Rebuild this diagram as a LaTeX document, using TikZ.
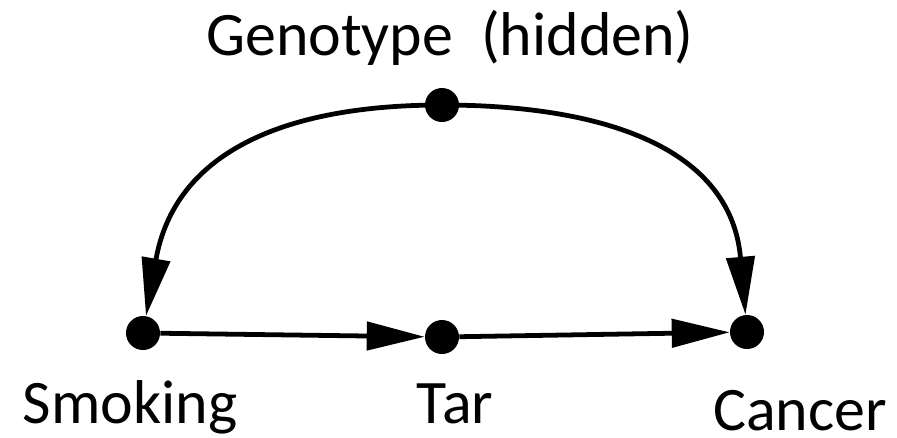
\documentclass[tikz,border=0pt]{standalone}
\usepackage{fontspec}
\setmainfont{Carlito}
\usetikzlibrary{positioning,arrows.meta}
\tikzset{
  dot/.style={circle,fill=black,inner sep=0pt,minimum size=0.85cm},
  lbl/.style={anchor=base,inner sep=0pt,font=\fontsize{44}{50}\selectfont},
  edge/.style={-{Triangle[length=1.45cm,width=0.7cm]},line width=3.4pt}
}
\begin{document}
\begin{tikzpicture}[x=0.025cm,y=-0.025cm]
  \useasboundingbox (0,0) rectangle (897,437);
  \node[dot] (geno) at (442,105) {};
  \node[dot] (smoke) at (143,333) {};
  \node[dot] (tar) at (442,337) {};
  \node[dot] (cancer) at (747,332) {};
  \node[lbl] (genolbl) at (450,55) {Genotype\ \ (hidden)};
  \node[lbl] (smokelbl) at (130,423) {Smoking};
  \node[lbl] (tarlbl) at (455,423) {Tar};
  \node[lbl] (cancerlbl) at (800,430) {Cancer};
  \draw[edge] (smoke) -- (tar);
  \draw[edge] (tar) -- (cancer);
  \draw[edge] (geno.center) to[out=180,in=80,looseness=1.15] (smoke);
  \draw[edge] (geno.center) to[out=0,in=95,looseness=1.15] (cancer);
\end{tikzpicture}
\end{document}
